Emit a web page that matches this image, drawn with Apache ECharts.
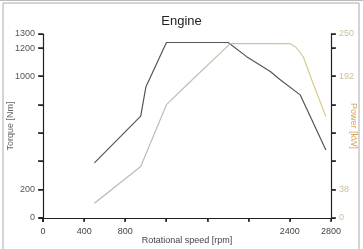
<!DOCTYPE html>
<html>
<head>
<meta charset="utf-8">
<script src="https://cdn.jsdelivr.net/npm/echarts@6/dist/echarts.min.js"></script>
<style>
  html, body { margin: 0; padding: 0; background: #fff; }
  #main { width: 363px; height: 249px; }
</style>
</head>
<body>
<div id="main"></div>
<script>
// rpm / value pairs
var torqueRpm = [500, 950, 1000, 1200, 1800, 1980, 2210, 2300, 2500, 2610, 2750];
var torqueNm  = [390, 720, 925, 1240, 1240, 1140, 1035, 980, 870, 700, 480];
var powerRpm  = [500, 950, 1200, 1400, 1820, 2400, 2460, 2530, 2625, 2750];
var powerKw   = [20, 70, 154, 181, 237, 237, 232, 219, 183, 138];

var xLabels = [0, 400, 800, 2400, 2800];
var leftLabels = [0, 200, 1000, 1200, 1300];
var rightLabels = [0, 38, 192, 250];
var xTicks = [0, 400, 800, 1200, 1600, 2000, 2400, 2800];
var yTicks = [0, 200, 400, 600, 800, 1000, 1200, 1300];

function pairs(xs, ys) {
  var out = [];
  for (var i = 0; i < xs.length; i++) out.push([xs[i], ys[i]]);
  return out;
}

var chart = echarts.init(document.getElementById('main'));
var fontFam = 'Liberation Sans, Arial, sans-serif';

chart.setOption({
  backgroundColor: '#fff',
  animation: false,
  title: {
    text: 'Engine', left: 'center', top: 10,
    textStyle: { fontSize: 13, fontWeight: 'normal', color: '#222', fontFamily: fontFam }
  },
  grid: { left: 43, right: 32, top: 34, bottom: 31, containLabel: false, outerBoundsMode: 'none' },
  xAxis: {
    type: 'value', min: 0, max: 2800, interval: 400,
    name: 'Rotational speed [rpm]', nameLocation: 'middle', nameGap: 18, nameMoveOverlap: false,
    nameTextStyle: { fontSize: 9, color: '#444', fontFamily: fontFam },
    axisLine: { show: true, onZero: false, lineStyle: { color: '#222', width: 1.2 } },
    axisTick: { show: true, length: 3 },
    axisLabel: { fontSize: 9, fontFamily: fontFam, color: '#444', margin: 9,
      formatter: function (v) { return xLabels.indexOf(v) >= 0 ? String(v) : ''; } },
    splitLine: { show: false }
  },
  yAxis: [{
    type: 'value', min: 0, max: 1300, interval: 200,
    name: 'Torque [Nm]', nameLocation: 'middle', nameGap: 28, nameRotate: 90, nameMoveOverlap: false,
    nameTextStyle: { fontSize: 9, color: '#666', fontFamily: fontFam },
    axisLine: { show: true, onZero: false, lineStyle: { color: '#222', width: 1.2 } },
    axisTick: { show: true, length: 4 },
    axisLabel: { fontSize: 9, fontFamily: fontFam, margin: 8,
      formatter: function (v) { return leftLabels.indexOf(v) >= 0 ? String(v) : ''; },
      color: function (v) { return v === 0 ? '#aaa' : '#555'; } },
    splitLine: { show: false }
  }, {
    type: 'value', min: 0, max: 250, interval: 250 / 6.5, position: 'right',
    name: 'Power [kW]', nameLocation: 'middle', nameGap: 18, nameRotate: -90, nameMoveOverlap: false,
    nameTextStyle: { fontSize: 9, color: '#d9a45e', fontFamily: fontFam },
    axisLine: { show: true, onZero: false, lineStyle: { color: '#222', width: 1.2 } },
    axisTick: { show: true, length: 4 },
    axisLabel: { fontSize: 9, fontFamily: fontFam, margin: 8, color: '#c9c09c',
      formatter: function (v) { var r = Math.round(v); return rightLabels.indexOf(r) >= 0 ? String(r) : ''; } },
    splitLine: { show: false }
  }],
  series: [{
    name: 'Torque', type: 'line', yAxisIndex: 0, symbol: 'none',
    data: pairs(torqueRpm, torqueNm),
    lineStyle: { color: '#555', width: 1.2 }
  }, {
    name: 'Power', type: 'line', yAxisIndex: 1, symbol: 'none',
    data: pairs(powerRpm, powerKw),
    lineStyle: { width: 1.2, color: new echarts.graphic.LinearGradient(0, 0, 1, 0, [
      { offset: 0, color: '#b8b8b8' }, { offset: 0.6, color: '#c4c0b0' }, { offset: 1, color: '#dccb8c' }
    ]) }
  }]
});

// the axis ticks don't render on this build, so put them in by hand from the axis scales
var tickLine = { stroke: '#111', lineWidth: 1.4 };
var g = [
  { type: 'rect', shape: { x: 3, y: 3, width: 356, height: 260 }, style: { fill: null, stroke: '#aaa', lineWidth: 1 } },
  { type: 'line', shape: { x1: 0, y1: 0.5, x2: 363, y2: 0.5 }, style: { stroke: '#bbb', lineWidth: 1 } }
];
var y0 = Math.round(chart.convertToPixel({ yAxisIndex: 0 }, 0));
var xl = Math.round(chart.convertToPixel({ xAxisIndex: 0 }, 0));
var xr = Math.round(chart.convertToPixel({ xAxisIndex: 0 }, 2800));
xTicks.forEach(function (v) {
  var px = Math.round(chart.convertToPixel({ xAxisIndex: 0 }, v));
  g.push({ type: 'line', shape: { x1: px, y1: y0, x2: px, y2: y0 + 4 }, style: tickLine });
});
yTicks.forEach(function (v) {
  var py = Math.round(chart.convertToPixel({ yAxisIndex: 0 }, v));
  g.push({ type: 'line', shape: { x1: xl - 5, y1: py, x2: xl, y2: py }, style: tickLine });
  g.push({ type: 'line', shape: { x1: xr, y1: py, x2: xr + 5, y2: py }, style: tickLine });
});
// small overshoot of the axis lines at the origin
g.push({ type: 'line', shape: { x1: xl, y1: y0, x2: xl, y2: y0 + 4 }, style: tickLine });
g.push({ type: 'line', shape: { x1: xl - 4, y1: y0, x2: xl, y2: y0 }, style: tickLine });
chart.setOption({ graphic: g });
</script>
</body>
</html>
